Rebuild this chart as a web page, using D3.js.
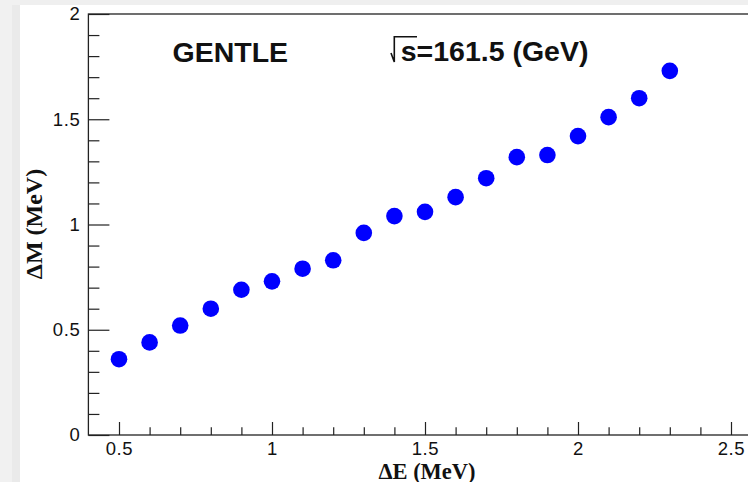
<!DOCTYPE html>
<html>
<head>
<meta charset="utf-8">
<script src="https://cdn.jsdelivr.net/npm/d3@7"></script>
<style>
  html, body { margin: 0; padding: 0; background: #ffffff; }
  svg { display: block; }
</style>
</head>
<body>
<svg id="chart" width="748" height="482"></svg>
<script>
// Beam energy spread ΔE vs. resulting mass resolution ΔM
const deltaE = [0.5, 0.6, 0.7, 0.8, 0.9, 1.0, 1.1, 1.2, 1.3, 1.4, 1.5, 1.6, 1.7, 1.8, 1.9, 2.0, 2.1, 2.2, 2.3];
const deltaM = [0.36, 0.44, 0.52, 0.60, 0.69, 0.73, 0.79, 0.83, 0.96, 1.04, 1.06, 1.13, 1.22, 1.32, 1.33, 1.42, 1.51, 1.60, 1.73];

const xMajorTicks = [0.5, 1, 1.5, 2, 2.5];
const xMinorTicks = [0.6, 0.7, 0.8, 0.9, 1.1, 1.2, 1.3, 1.4, 1.6, 1.7, 1.8, 1.9, 2.1, 2.2, 2.3, 2.4];
const yMajorTicks = [0, 0.5, 1, 1.5, 2];
const yMinorTicks = [0.1, 0.2, 0.3, 0.4, 0.6, 0.7, 0.8, 0.9, 1.1, 1.2, 1.3, 1.4, 1.6, 1.7, 1.8, 1.9];
const xTickLabels = ["0.5", "1", "1.5", "2", "2.5"];
const yTickLabels = ["0", "0.5", "1", "1.5", "2"];

const svg = d3.select("#chart");
const W = 748, H = 482;
const sans = "'Liberation Sans', Arial, Helvetica, sans-serif";
const serif = "'Liberation Serif', 'Times New Roman', Times, serif";

// window margin shading
svg.append("rect").attr("x", 0).attr("y", 0).attr("width", W).attr("height", 5).attr("fill", "#efefef");
svg.append("rect").attr("x", 0).attr("y", 0).attr("width", 20).attr("height", H).attr("fill", "#f1f1f1");
svg.append("rect").attr("x", 12).attr("y", 5).attr("width", 8).attr("height", H - 5).attr("fill", "#eaeaea");

const frame = { left: 88.4, top: 14, bottom: 435, right: 761.6 };

const x = d3.scaleLinear().domain([0.4, 2.6]).range([frame.left, frame.right]);
const y = d3.scaleLinear().domain([0, 2]).range([frame.bottom, frame.top]);

const axisColor = "#222";

function styleAxis(g) {
  g.attr("font-size", null).attr("font-family", null);
  g.select(".domain").remove();
  g.selectAll(".tick line").attr("stroke", axisColor).attr("stroke-width", 1.2);
  g.selectAll(".tick text")
    .attr("fill", "#111")
    .style("font-family", sans)
    .style("font-size", "18.5px")
    .style("letter-spacing", "0.6px");
}

// x axis: minor then major ticks, pointing into the frame
svg.append("g")
  .attr("transform", `translate(0,${frame.bottom})`)
  .call(d3.axisBottom(x).tickValues(xMinorTicks).tickSize(-7.7).tickFormat(""))
  .call(styleAxis);

svg.append("g")
  .attr("transform", `translate(0,${frame.bottom})`)
  .call(d3.axisBottom(x).tickValues(xMajorTicks).tickSize(-13).tickPadding(7)
        .tickFormat((d, i) => xTickLabels[i]))
  .call(styleAxis);

// y axis
svg.append("g")
  .attr("transform", `translate(${frame.left},0)`)
  .call(d3.axisLeft(y).tickValues(yMinorTicks).tickSize(-11).tickFormat(""))
  .call(styleAxis);

svg.append("g")
  .attr("transform", `translate(${frame.left},0)`)
  .call(d3.axisLeft(y).tickValues(yMajorTicks).tickSize(-21).tickPadding(8)
        .tickFormat((d, i) => yTickLabels[i]))
  .call(styleAxis);

// frame
svg.append("rect")
  .attr("x", frame.left).attr("y", frame.top)
  .attr("width", frame.right - frame.left).attr("height", frame.bottom - frame.top)
  .attr("fill", "none").attr("stroke", axisColor).attr("stroke-width", 1.3);

// data points
svg.append("g").selectAll("circle")
  .data(deltaE.map((e, i) => ({ e, m: deltaM[i] })))
  .join("circle")
  .attr("cx", d => x(d.e))
  .attr("cy", d => y(d.m))
  .attr("r", 8.3)
  .attr("fill", "#0000ff");

// axis titles
svg.append("text")
  .attr("x", 427).attr("y", 478.5)
  .attr("text-anchor", "middle")
  .attr("font-family", serif).attr("font-weight", "bold").attr("font-size", "22.5px")
  .attr("fill", "#111")
  .text("ΔE (MeV)");

svg.append("text")
  .attr("transform", "translate(41.5,224) rotate(-90)")
  .attr("text-anchor", "middle")
  .attr("font-family", serif).attr("font-weight", "bold").attr("font-size", "24px")
  .attr("fill", "#111")
  .text("ΔM (MeV)");

// in-frame labels
svg.append("text")
  .attr("x", 172.5).attr("y", 61.5)
  .attr("font-family", sans).attr("font-weight", "bold").attr("font-size", "28.5px")
  .attr("fill", "#111")
  .text("GENTLE");

// radical sign over "s"
svg.append("path")
  .attr("d", "M391,53 L394.3,62 L394.3,36.7 L417,36.7")
  .attr("fill", "none").attr("stroke", "#111").attr("stroke-width", 1.6);

svg.append("text")
  .attr("x", 400.7).attr("y", 61)
  .attr("font-family", sans).attr("font-weight", "bold").attr("font-size", "28.5px")
  .attr("fill", "#111")
  .text("s=161.5 (GeV)");
</script>
</body>
</html>
